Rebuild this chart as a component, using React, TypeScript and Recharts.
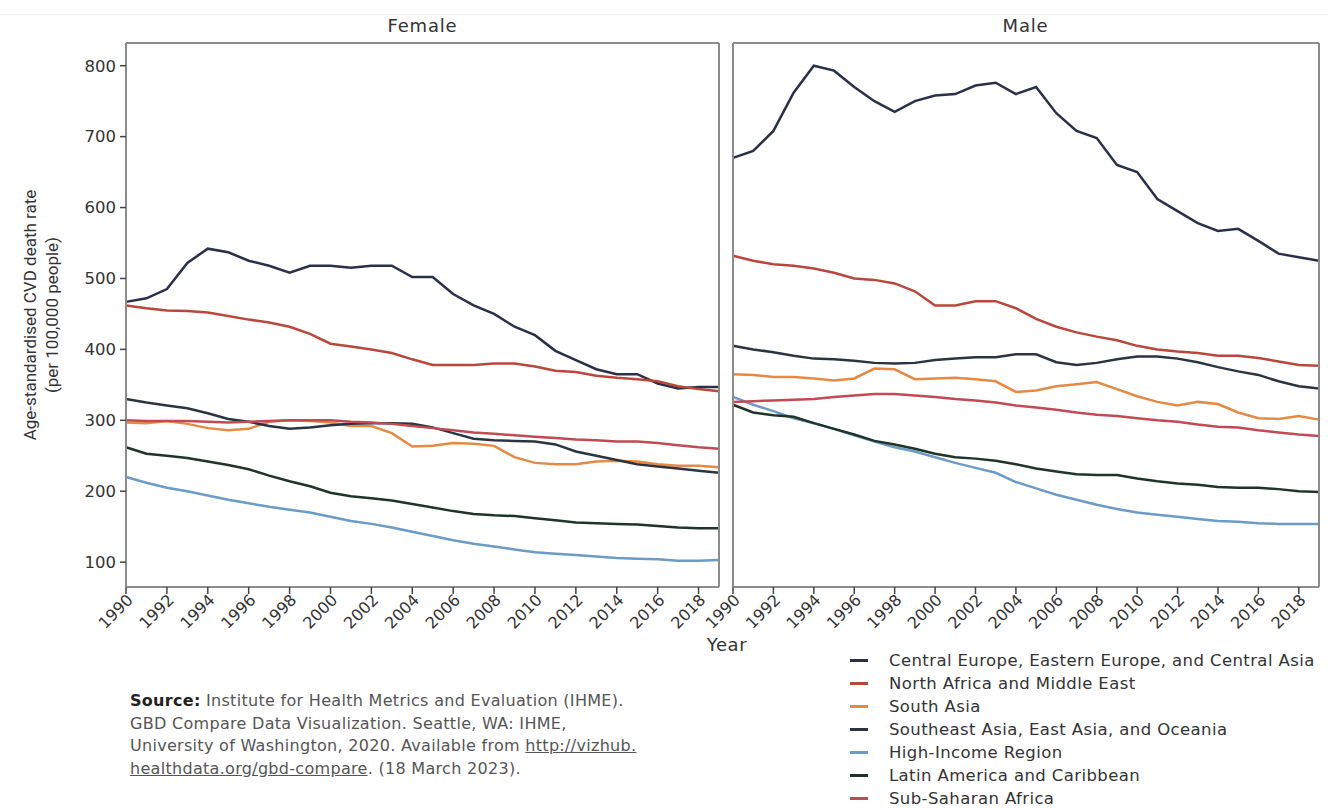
import React from "react"
import { LineChart, Line, XAxis, YAxis } from "recharts"

const years = [
  1990, 1991, 1992, 1993, 1994, 1995, 1996, 1997, 1998, 1999,
  2000, 2001, 2002, 2003, 2004, 2005, 2006, 2007, 2008, 2009,
  2010, 2011, 2012, 2013, 2014, 2015, 2016, 2017, 2018, 2019,
]
const xTicks = [1990, 1992, 1994, 1996, 1998, 2000, 2002, 2004, 2006, 2008, 2010, 2012, 2014, 2016, 2018]
const yTicks = [100, 200, 300, 400, 500, 600, 700, 800]

const regions = [
  { key: "cee", name: "Central Europe, Eastern Europe, and Central Asia", color: "#2a3048" },
  { key: "nafme", name: "North Africa and Middle East", color: "#b9473c" },
  { key: "sasia", name: "South Asia", color: "#e58a45" },
  { key: "seao", name: "Southeast Asia, East Asia, and Oceania", color: "#2b3540" },
  { key: "hi", name: "High-Income Region", color: "#6b9bc6" },
  { key: "lac", name: "Latin America and Caribbean", color: "#1f3529" },
  { key: "ssa", name: "Sub-Saharan Africa", color: "#c24a55" },
]

// female
const femaleCee = [467, 472, 485, 522, 542, 537, 525, 518, 508, 518, 518, 515, 518, 518, 502, 502, 478, 462, 450, 432, 420, 398, 385, 372, 365, 365, 352, 345, 347, 347]
const femaleNafme = [462, 458, 455, 454, 452, 447, 442, 438, 432, 422, 408, 404, 400, 395, 386, 378, 378, 378, 380, 380, 376, 370, 368, 363, 360, 358, 355, 348, 344, 341]
const femaleSasia = [297, 296, 299, 295, 289, 286, 288, 298, 300, 299, 297, 292, 292, 282, 263, 264, 268, 267, 264, 248, 240, 238, 238, 242, 243, 242, 238, 236, 236, 234]
const femaleSeao = [330, 325, 321, 317, 310, 302, 298, 292, 288, 290, 293, 295, 296, 296, 295, 290, 282, 274, 272, 271, 270, 266, 256, 250, 244, 238, 235, 232, 229, 226]
const femaleHi = [220, 212, 205, 200, 194, 188, 183, 178, 174, 170, 164, 158, 154, 149, 143, 137, 131, 126, 122, 118, 114, 112, 110, 108, 106, 105, 104, 102, 102, 103]
const femaleLac = [262, 253, 250, 247, 242, 237, 231, 222, 214, 207, 198, 193, 190, 187, 182, 177, 172, 168, 166, 165, 162, 159, 156, 155, 154, 153, 151, 149, 148, 148]
const femaleSsa = [300, 299, 299, 299, 298, 297, 298, 299, 300, 300, 300, 298, 297, 295, 292, 289, 286, 283, 281, 279, 277, 275, 273, 272, 270, 270, 268, 265, 262, 260]

// male
const maleCee = [670, 680, 708, 762, 800, 793, 770, 750, 735, 750, 758, 760, 772, 776, 760, 770, 733, 708, 698, 660, 650, 612, 595, 578, 567, 570, 553, 535, 530, 525]
const maleNafme = [532, 525, 520, 518, 514, 508, 500, 498, 493, 482, 462, 462, 468, 468, 458, 443, 432, 424, 418, 413, 405, 400, 397, 395, 391, 391, 388, 383, 378, 377]
const maleSasia = [365, 364, 361, 361, 359, 356, 359, 373, 372, 358, 359, 360, 358, 355, 340, 342, 348, 351, 354, 344, 334, 326, 321, 326, 323, 311, 303, 302, 306, 301]
const maleSeao = [405, 400, 396, 391, 387, 386, 384, 381, 380, 381, 385, 387, 389, 389, 393, 393, 382, 378, 381, 386, 390, 390, 387, 382, 375, 369, 364, 355, 348, 345]
const maleHi = [333, 322, 313, 303, 296, 288, 279, 270, 262, 256, 248, 240, 233, 226, 213, 204, 195, 188, 181, 175, 170, 167, 164, 161, 158, 157, 155, 154, 154, 154]
const maleLac = [322, 311, 307, 305, 296, 288, 280, 271, 266, 260, 253, 248, 246, 243, 238, 232, 228, 224, 223, 223, 218, 214, 211, 209, 206, 205, 205, 203, 200, 199]
const maleSsa = [326, 327, 328, 329, 330, 333, 335, 337, 337, 335, 333, 330, 328, 325, 321, 318, 315, 311, 308, 306, 303, 300, 298, 294, 291, 290, 286, 283, 280, 278]

const buildRows = (s: Record<string, number[]>) =>
  years.map((year, i) => {
    const row: Record<string, number> = { year }
    Object.keys(s).forEach((k) => (row[k] = s[k][i]))
    return row
  })

const femaleData = buildRows({ cee: femaleCee, nafme: femaleNafme, sasia: femaleSasia, seao: femaleSeao, hi: femaleHi, lac: femaleLac, ssa: femaleSsa })
const maleData = buildRows({ cee: maleCee, nafme: maleNafme, sasia: maleSasia, seao: maleSeao, hi: maleHi, lac: maleLac, ssa: maleSsa })

const font = "'DejaVu Sans', 'Open Sans', sans-serif"
const frame = "#8c8c8c"

const YearTick = (props: any) => {
  const { x, y, payload } = props
  return (
    <text
      transform={`translate(${x + 4},${y + 1}) rotate(-45)`}
      textAnchor="end"
      dy="0.35em"
      fontSize={16}
      fontFamily={font}
      fill="#333"
    >
      {payload.value}
    </text>
  )
}

function Panel({ data, showY, width, marginLeft }: { data: any[]; showY: boolean; width: number; marginLeft: number }) {
  return (
    <LineChart
      width={width}
      height={660}
      data={data}
      margin={{ top: 42, right: 8, left: marginLeft, bottom: 13 }}
      style={{ overflow: "visible" }}
    >
      <XAxis
        xAxisId="b"
        dataKey="year"
        type="number"
        domain={[1990, 2019]}
        ticks={xTicks}
        tick={<YearTick />}
        tickSize={7}
        tickLine={{ stroke: "#444", strokeWidth: 1.5 }}
        axisLine={{ stroke: frame, strokeWidth: 2 }}
        height={60}
        interval={0}
      />
      <XAxis
        xAxisId="t"
        dataKey="year"
        type="number"
        domain={[1990, 2019]}
        orientation="top"
        tick={false}
        tickLine={false}
        axisLine={{ stroke: frame, strokeWidth: 2 }}
        height={1}
      />
      <YAxis
        yAxisId="l"
        type="number"
        domain={[65, 832]}
        ticks={yTicks}
        width={showY ? 126 : 1}
        tick={showY ? { fontSize: 16.5, fontFamily: font, fill: "#333" } : false}
        tickLine={showY ? { stroke: "#444", strokeWidth: 1.5 } : false}
        tickSize={6}
        tickMargin={4}
        axisLine={{ stroke: frame, strokeWidth: 2 }}
      />
      <YAxis
        yAxisId="r"
        orientation="right"
        type="number"
        domain={[65, 832]}
        tick={false}
        tickLine={false}
        width={1}
        axisLine={{ stroke: frame, strokeWidth: 2 }}
      />
      {regions.map((r) => (
        <Line
          key={r.key}
          xAxisId="b"
          yAxisId="l"
          dataKey={r.key}
          name={r.name}
          stroke={r.color}
          strokeWidth={2.5}
          dot={false}
          type="linear"
          isAnimationActive={false}
        />
      ))}
    </LineChart>
  )
}

export default function App() {
  return (
    <div style={{ position: "absolute", left: 0, top: 0, width: 1328, height: 808, background: "#fff", fontFamily: font, overflow: "hidden" }}>
      <div style={{ position: "absolute", left: 0, top: 14, width: 1328, height: 1, background: "#ececec" }} />
      <div style={{ position: "absolute", left: 0, top: 0 }}>
        <Panel data={femaleData} showY={true} width={728} marginLeft={0} />
      </div>
      <div style={{ position: "absolute", left: 683, top: 0 }}>
        <Panel data={maleData} showY={false} width={645} marginLeft={49} />
      </div>
      <div style={{ position: "absolute", left: 126, width: 593, top: 15, textAlign: "center", fontSize: 18, letterSpacing: 0.8, color: "#333" }}>Female</div>
      <div style={{ position: "absolute", left: 733, width: 585, top: 15, textAlign: "center", fontSize: 18, letterSpacing: 0.8, color: "#333" }}>Male</div>
      <div
        style={{
          position: "absolute",
          left: 41,
          top: 315,
          transform: "translate(-50%, -50%) rotate(-90deg)",
          whiteSpace: "nowrap",
          textAlign: "center",
          fontFamily: "Roboto, sans-serif",
          fontSize: 17,
          lineHeight: "22px",
          color: "#333",
        }}
      >
        Age-standardised CVD death rate
        <br />
        (per 100,000 people)
      </div>
      <div style={{ position: "absolute", left: 627, width: 200, top: 634, textAlign: "center", fontSize: 18, color: "#333", letterSpacing: 0.6 }}>Year</div>
      <div style={{ position: "absolute", left: 130, top: 690, fontSize: 16, letterSpacing: 0.3, lineHeight: "22.5px", color: "#555" }}>
        <div><b style={{ color: "#222" }}>Source:</b> Institute for Health Metrics and Evaluation (IHME).</div>
        <div>GBD Compare Data Visualization. Seattle, WA: IHME,</div>
        <div>University of Washington, 2020. Available from <u>http://vizhub.</u></div>
        <div><u>healthdata.org/gbd-compare</u>. (18 March 2023).</div>
      </div>
      <div style={{ position: "absolute", left: 850, top: 649 }}>
        {regions.map((r) => (
          <div key={r.key} style={{ display: "flex", alignItems: "center", height: 23 }}>
            <span style={{ display: "inline-block", width: 18, height: 2.5, background: r.color, marginRight: 21 }} />
            <span style={{ fontSize: 16.5, letterSpacing: 0.4, color: "#333", whiteSpace: "nowrap" }}>{r.name}</span>
          </div>
        ))}
      </div>
    </div>
  )
}
